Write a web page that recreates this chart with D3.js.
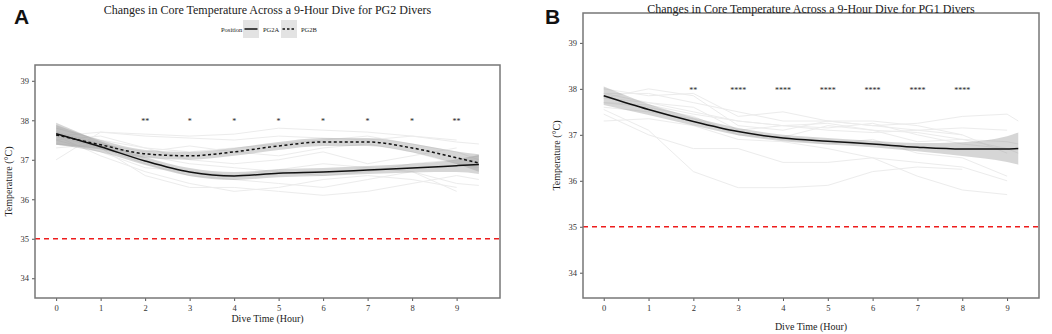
<!DOCTYPE html>
<html>
<head>
<meta charset="utf-8">
<script src="https://cdn.jsdelivr.net/npm/d3@7"></script>
<style>
  body { margin: 0; background: #fff; }
  svg text { font-family: "Liberation Serif", "Times New Roman", serif; }
</style>
</head>
<body>
<svg id="chart" width="1052" height="334"></svg>
<script>
// ---- data, panel A (PG2) ----
var hoursA = [0, 1, 2, 3, 4, 5, 6, 7, 8, 9, 9.5];
var fitPG2A = [37.66, 37.33, 36.97, 36.69, 36.59, 36.66, 36.69, 36.74, 36.79, 36.85, 36.88];
var sePG2A  = [0.28, 0.14, 0.1, 0.1, 0.1, 0.1, 0.1, 0.1, 0.11, 0.16, 0.24];
var fitPG2B = [37.63, 37.38, 37.15, 37.1, 37.2, 37.35, 37.45, 37.45, 37.3, 37.05, 36.92];
var sePG2B  = [0.25, 0.12, 0.1, 0.1, 0.1, 0.1, 0.1, 0.1, 0.11, 0.16, 0.22];
var diversA = [
  [37.0, 37.7, 37.6, 37.55, 37.5, 37.6, 37.55, 37.5, 37.6, 37.45, 37.4],
  [37.6, 37.7, 37.65, 37.6, 37.65, 37.8, 37.75, 37.7, 37.6, 37.5, null],
  [37.5, 37.2, 36.8, 36.7, 36.6, 36.75, 36.9, 36.8, 36.7, 36.4, 36.35],
  [37.6, 37.1, 36.7, 36.4, 36.2, 36.3, 36.5, 36.6, 36.5, 36.3, null],
  [37.7, 37.4, 37.1, 36.9, 36.8, 36.7, 36.6, 36.7, 36.9, 37.0, 37.1],
  [37.4, 37.3, 36.6, 36.3, 36.3, 36.2, 36.1, 36.2, 36.4, 36.6, 36.5],
  [37.8, 37.5, 37.3, 37.2, 37.3, 37.4, 37.5, 37.6, 37.4, 37.2, 37.0],
  [37.5, 37.6, 37.3, 37.0, 36.9, 37.0, 37.2, 36.9, 37.1, 37.3, null],
  [37.3, 37.4, 37.2, 37.35, 37.2, 37.1, 37.3, 37.4, 37.2, 36.9, 36.8],
  [37.6, 37.3, 36.9, 36.6, 36.5, 36.4, 36.3, 36.5, 36.7, 36.2, null]
];
var sigHoursA = [2, 3, 4, 5, 6, 7, 8, 9];
var sigLabelsA = ["**", "*", "*", "*", "*", "*", "*", "**"];

// ---- data, panel B (PG1) ----
var hoursB = [0, 1, 2, 3, 4, 5, 6, 7, 8, 9, 9.25];
var fitPG1 = [37.85, 37.55, 37.29, 37.07, 36.93, 36.86, 36.8, 36.73, 36.69, 36.69, 36.7];
var sePG1  = [0.2, 0.12, 0.09, 0.08, 0.07, 0.07, 0.07, 0.09, 0.15, 0.28, 0.35];
var diversB = [
  [37.8, 38.0, 37.85, 37.2, 37.1, 37.3, 37.2, 37.25, 37.4, 37.45, 37.3],
  [37.9, 37.9, 37.7, 37.5, 37.3, 37.3, 37.2, 37.1, 37.15, 37.1, null],
  [37.55, 37.1, 36.2, 35.85, 35.85, 35.9, 36.2, 36.3, 36.25, null, null],
  [37.45, 37.0, 36.7, 36.7, 36.4, 36.4, 36.5, 36.1, 35.8, 35.7, null],
  [37.7, 37.6, 37.4, 37.0, 36.9, 36.8, 36.9, 36.6, 36.5, 36.1, null],
  [37.8, 37.7, 37.5, 37.3, 37.2, 37.1, 37.05, 37.1, 37.0, 36.6, null],
  [37.6, 37.5, 37.35, 37.0, 36.95, 37.2, 37.1, 36.85, 36.9, 36.7, null],
  [38.0, 37.85, 37.9, 37.4, 37.5, 37.3, 37.3, 37.2, 37.0, null, null],
  [37.9, 37.7, 37.6, 37.1, 37.2, 37.15, 37.25, 37.0, 36.8, 36.7, 36.6],
  [37.3, 37.35, 37.2, 36.9, 36.85, 36.7, 36.5, 36.4, 36.3, 36.0, null],
  [37.7, 37.65, 37.45, 37.3, 37.2, 37.25, 37.1, 37.05, 36.9, 36.85, 36.8]
];
var sigHoursB = [2, 3, 4, 5, 6, 7, 8];
var sigLabelsB = ["**", "****", "****", "****", "****", "****", "****"];

var xTicks = [0, 1, 2, 3, 4, 5, 6, 7, 8, 9];
var yTicks = [34, 35, 36, 37, 38, 39];
var hypoLimit = 35;

var svg = d3.select('#chart');

function drawPanel(p) {
  var x = d3.scaleLinear().domain(p.xDomain).range([p.left, p.right]);
  var y = d3.scaleLinear().domain(p.yDomain).range([p.bottom, p.top]);
  var g = svg.append('g');

  // individual divers, very light grey
  var thin = d3.line()
    .defined(function(d) { return d[1] != null; })
    .x(function(d) { return x(d[0]); })
    .y(function(d) { return y(d[1]); });
  p.divers.forEach(function(vals) {
    g.append('path')
      .datum(p.hours.map(function(h, i) { return [h, vals[i]]; }))
      .attr('d', thin)
      .attr('fill', 'none')
      .attr('stroke', '#ececec')
      .attr('stroke-width', 1);
  });

  // smooth fits with ribbons
  p.fits.forEach(function(f) {
    var pts = p.hours.map(function(h, i) { return { h: h, v: f.values[i], se: f.se[i] }; });
    g.append('path')
      .datum(pts)
      .attr('d', d3.area()
        .curve(d3.curveMonotoneX)
        .x(function(d) { return x(d.h); })
        .y0(function(d) { return y(d.v - d.se); })
        .y1(function(d) { return y(d.v + d.se); }))
      .attr('fill', '#999')
      .attr('fill-opacity', 0.4);
  });
  p.fits.forEach(function(f) {
    var pts = p.hours.map(function(h, i) { return { h: h, v: f.values[i] }; });
    g.append('path')
      .datum(pts)
      .attr('d', d3.line()
        .curve(d3.curveMonotoneX)
        .x(function(d) { return x(d.h); })
        .y(function(d) { return y(d.v); }))
      .attr('fill', 'none')
      .attr('stroke', '#111')
      .attr('stroke-width', 1.5)
      .attr('stroke-dasharray', f.dash ? '3,2.5' : null);
  });

  // 35 degree line
  g.append('line')
    .attr('x1', p.left).attr('x2', p.right)
    .attr('y1', y(hypoLimit)).attr('y2', y(hypoLimit))
    .attr('stroke', '#ee1c1c')
    .attr('stroke-width', 1.5)
    .attr('stroke-dasharray', '5,4');

  // significance stars
  g.selectAll('.sig')
    .data(p.sigHours)
    .enter()
    .append('text')
      .attr('x', function(d) { return x(d); })
      .attr('y', y(38) + 4)
      .attr('text-anchor', 'middle')
      .attr('font-size', 8)
      .attr('fill', '#222')
      .text(function(d, i) { return p.sigLabels[i]; });

  // axes
  var xAxis = g.append('g')
    .attr('transform', 'translate(0,' + p.bottom + ')')
    .call(d3.axisBottom(x).tickValues(xTicks).tickFormat(d3.format('d')).tickSize(3).tickPadding(4));
  var yAxis = g.append('g')
    .attr('transform', 'translate(' + p.left + ',0)')
    .call(d3.axisLeft(y).tickValues(yTicks).tickFormat(d3.format('d')).tickSize(3).tickPadding(3));
  [xAxis, yAxis].forEach(function(a) {
    a.select('.domain').remove();
    a.selectAll('line').attr('stroke', '#555');
    a.selectAll('text').attr('font-size', 8.5).attr('fill', '#333');
  });

  // panel border
  g.append('rect')
    .attr('x', p.left).attr('y', p.top)
    .attr('width', p.right - p.left).attr('height', p.bottom - p.top)
    .attr('fill', 'none')
    .attr('stroke', '#777')
    .attr('stroke-width', 1.5);

  // titles
  var cx = (p.left + p.right) / 2;
  g.append('text')
    .attr('x', cx).attr('y', p.titleY)
    .attr('text-anchor', 'middle')
    .attr('font-size', 12)
    .attr('fill', '#222')
    .text(p.title);
  g.append('text')
    .attr('x', cx).attr('y', p.xTitleY)
    .attr('text-anchor', 'middle')
    .attr('font-size', 10)
    .attr('fill', '#222')
    .text('Dive Time (Hour)');
  g.append('text')
    .attr('transform', 'translate(' + p.yTitleX + ',' + ((p.top + p.bottom) / 2) + ') rotate(-90)')
    .attr('text-anchor', 'middle')
    .attr('font-size', 10)
    .attr('fill', '#222')
    .text('Temperature (°C)');

  // panel letter
  g.append('text')
    .attr('x', p.letterX).attr('y', 24)
    .style('font-family', '"Liberation Sans", Arial, sans-serif')
    .attr('font-weight', 'bold')
    .attr('font-size', 21)
    .attr('fill', '#111')
    .text(p.letter);
}

drawPanel({
  letter: 'A', letterX: 14,
  title: 'Changes in Core Temperature Across a 9-Hour Dive for PG2 Divers',
  left: 35, right: 500, top: 65, bottom: 298,
  xDomain: [-0.475, 9.975], yDomain: [33.5, 39.4],
  titleY: 14, xTitleY: 322, yTitleX: 12,
  hours: hoursA, divers: diversA,
  fits: [
    { values: fitPG2A, se: sePG2A, dash: false },
    { values: fitPG2B, se: sePG2B, dash: true }
  ],
  sigHours: sigHoursA, sigLabels: sigLabelsA
});

drawPanel({
  letter: 'B', letterX: 545,
  title: 'Changes in Core Temperature Across a 9-Hour Dive for PG1 Divers',
  left: 583, right: 1039, top: 13, bottom: 298,
  xDomain: [-0.4625, 9.7125], yDomain: [33.45, 39.65],
  titleY: 13, xTitleY: 330, yTitleX: 560,
  hours: hoursB, divers: diversB,
  fits: [ { values: fitPG1, se: sePG1, dash: false } ],
  sigHours: sigHoursB, sigLabels: sigLabelsB
});

// legend for panel A
var legendNames = ['PG2A', 'PG2B'];
var legend = svg.append('g').attr('transform', 'translate(221,29)');
legend.append('text')
  .attr('x', 0).attr('y', 2.5)
  .attr('font-size', 6.5).attr('fill', '#222')
  .text('Position');
var keys = legend.selectAll('.key')
  .data(legendNames)
  .enter()
  .append('g')
    .attr('transform', function(d, i) { return 'translate(' + (22 + i * 38) + ',0)'; });
keys.append('rect')
  .attr('x', 0).attr('y', -9).attr('width', 16).attr('height', 18)
  .attr('fill', '#e3e3e3');
keys.append('line')
  .attr('x1', 1.5).attr('x2', 14.5).attr('y1', 0).attr('y2', 0)
  .attr('stroke', '#111').attr('stroke-width', 1.5)
  .attr('stroke-dasharray', function(d, i) { return i ? '2.5,2' : null; });
keys.append('text')
  .attr('x', 20).attr('y', 2.5)
  .attr('font-size', 6.5).attr('fill', '#222')
  .text(function(d) { return d; });
</script>
</body>
</html>
